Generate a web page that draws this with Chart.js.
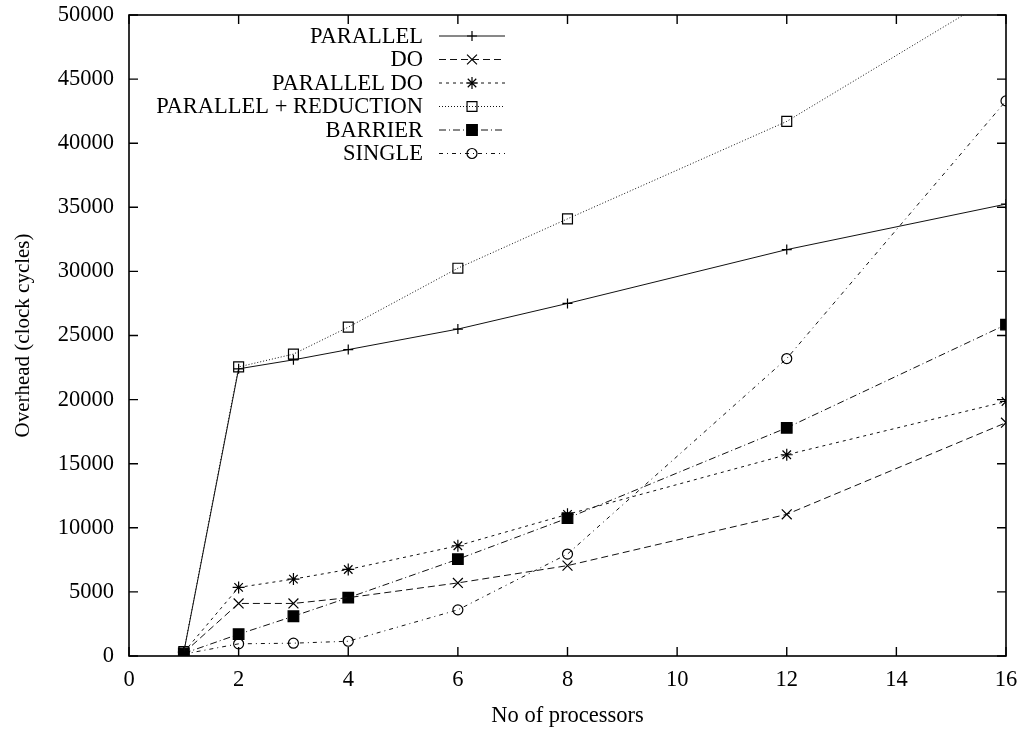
<!DOCTYPE html>
<html>
<head>
<meta charset="utf-8">
<script src="https://cdn.jsdelivr.net/npm/chart.js@4/dist/chart.umd.min.js"></script>
<style>
  html, body { margin: 0; padding: 0; background: #fff; }
  #wrap { width: 1029px; height: 731px; position: relative; }
</style>
</head>
<body>
<div id="wrap"><canvas id="c" width="1029" height="731"></canvas></div>
<script>
// ---- data ----
const processors = [1, 2, 3, 4, 6, 8, 12, 16];
const seriesLabels = ['PARALLEL', 'DO', 'PARALLEL DO', 'PARALLEL + REDUCTION', 'BARRIER', 'SINGLE'];
const parallel          = [300, 22400, 23100, 23900, 25500, 27500, 31700, 35250];
const doLoop            = [250, 4100, 4100, 4550, 5700, 7050, 11050, 18200];
const parallelDo        = [300, 5350, 6000, 6750, 8600, 11050, 15700, 19850];
const parallelReduction = [350, 22550, 23550, 25650, 30250, 34100, 41700, 52000];
const barrier           = [200, 1700, 3100, 4550, 7550, 10750, 17800, 25850];
const single            = [150, 950, 1000, 1150, 3600, 7950, 23200, 43300];
const xTicks = [0, 2, 4, 6, 8, 10, 12, 14, 16];
const yTicks = [0, 5000, 10000, 15000, 20000, 25000, 30000, 35000, 40000, 45000, 50000];

const FONT = "'Liberation Serif', 'Times New Roman', serif";
const INK = '#111';
const FS = 22.5;

function pts(arr) { return processors.map((p, i) => ({ x: p, y: arr[i] })); }

const styles = [
  { data: parallel,          dash: [],           point: 'cross',    r: 5, fill: false },
  { data: doLoop,            dash: [7, 4],       point: 'crossRot', r: 7, fill: false },
  { data: parallelDo,        dash: [3, 4],       point: 'star',     r: 6, fill: false },
  { data: parallelReduction, dash: [1, 2],       point: 'rect',     r: 7, fill: false },
  { data: barrier,           dash: [7, 3, 1, 3], point: 'rect',     r: 7.5, fill: true },
  { data: single,            dash: [4, 4, 1, 4], point: 'circle',   r: 5, fill: false },
];

const datasets = styles.map((s, i) => ({
  label: seriesLabels[i],
  data: pts(s.data),
  borderColor: INK,
  borderWidth: 1,
  borderDash: s.dash,
  backgroundColor: s.fill ? '#000' : 'rgba(0,0,0,0)',
  pointStyle: s.point,
  pointRadius: s.r,
  pointHoverRadius: s.r,
  pointBorderColor: '#000',
  pointBackgroundColor: s.fill ? '#000' : 'rgba(0,0,0,0)',
  pointBorderWidth: 1.2,
  tension: 0,
  fill: false,
}));

// border box + inward mirrored ticks (gnuplot style)
const frame = {
  id: 'frame',
  afterDraw(chart) {
    const { ctx, chartArea: a, scales } = chart;
    ctx.save();
    ctx.strokeStyle = '#000';
    ctx.lineWidth = 1.6;
    ctx.strokeRect(a.left, a.top, a.right - a.left, a.bottom - a.top);
    ctx.lineWidth = 1.4;
    const L = 9;
    ctx.beginPath();
    xTicks.forEach(v => {
      const px = scales.x.getPixelForValue(v);
      ctx.moveTo(px, a.bottom); ctx.lineTo(px, a.bottom - L);
      ctx.moveTo(px, a.top); ctx.lineTo(px, a.top + L);
    });
    yTicks.forEach(v => {
      const py = scales.y.getPixelForValue(v);
      ctx.moveTo(a.left, py); ctx.lineTo(a.left + L, py);
      ctx.moveTo(a.right, py); ctx.lineTo(a.right - L, py);
    });
    ctx.stroke();
    ctx.restore();
  }
};

// gnuplot-style key: right-aligned text, sample on the right
const key = {
  id: 'key',
  afterDraw(chart) {
    const { ctx } = chart;
    const textRight = 423, x0 = 439, x1 = 505, top = 36, step = 23.5;
    ctx.save();
    ctx.font = FS + "px " + FONT;
    ctx.textAlign = 'right';
    ctx.textBaseline = 'middle';
    chart.data.datasets.forEach((ds, i) => {
      const y = top + i * step;
      ctx.fillStyle = '#000';
      ctx.fillText(ds.label, textRight, y + 1);
      ctx.beginPath();
      ctx.setLineDash(ds.borderDash);
      ctx.strokeStyle = ds.borderColor;
      ctx.lineWidth = 1;
      ctx.moveTo(x0, y); ctx.lineTo(x1, y);
      ctx.stroke();
      ctx.setLineDash([]);
      ctx.strokeStyle = ds.pointBorderColor;
      ctx.fillStyle = ds.pointBackgroundColor;
      ctx.lineWidth = ds.pointBorderWidth;
      Chart.helpers.drawPoint(ctx, { pointStyle: ds.pointStyle, radius: ds.pointRadius, borderWidth: ds.pointBorderWidth, rotation: 0 }, (x0 + x1) / 2, y);
    });
    ctx.restore();
  }
};

new Chart(document.getElementById('c'), {
  type: 'line',
  data: { datasets },
  options: {
    responsive: false,
    animation: false,
    devicePixelRatio: 1,
    layout: { padding: { top: 15, right: 23, left: 0, bottom: 0 } },
    plugins: { legend: { display: false }, tooltip: { enabled: false } },
    scales: {
      x: {
        type: 'linear',
        min: 0, max: 16,
        afterBuildTicks: s => { s.ticks = xTicks.map(v => ({ value: v })); },
        afterFit: s => { s.height = 75; s.paddingLeft = 0; s.paddingRight = 0; },
        grid: { display: false, drawTicks: false },
        border: { display: false },
        ticks: { color: '#000', font: { family: FONT, size: FS }, padding: 11, maxRotation: 0 },
        title: { display: true, text: 'No of processors', color: '#000', font: { family: FONT, size: FS }, padding: { top: 0, bottom: 1 } }
      },
      y: {
        type: 'linear',
        min: 0, max: 50000,
        afterBuildTicks: s => { s.ticks = yTicks.map(v => ({ value: v })); },
        afterFit: s => { s.width = 129; s.paddingTop = 0; s.paddingBottom = 0; },
        grid: { display: false, drawTicks: false },
        border: { display: false },
        ticks: { color: '#000', font: { family: FONT, size: FS }, padding: 15, callback: v => String(v) },
        title: { display: true, text: 'Overhead (clock cycles)', color: '#000', font: { family: FONT, size: 21 }, padding: { top: 11, bottom: 0 } }
      }
    }
  },
  plugins: [frame, key]
});
</script>
</body>
</html>
